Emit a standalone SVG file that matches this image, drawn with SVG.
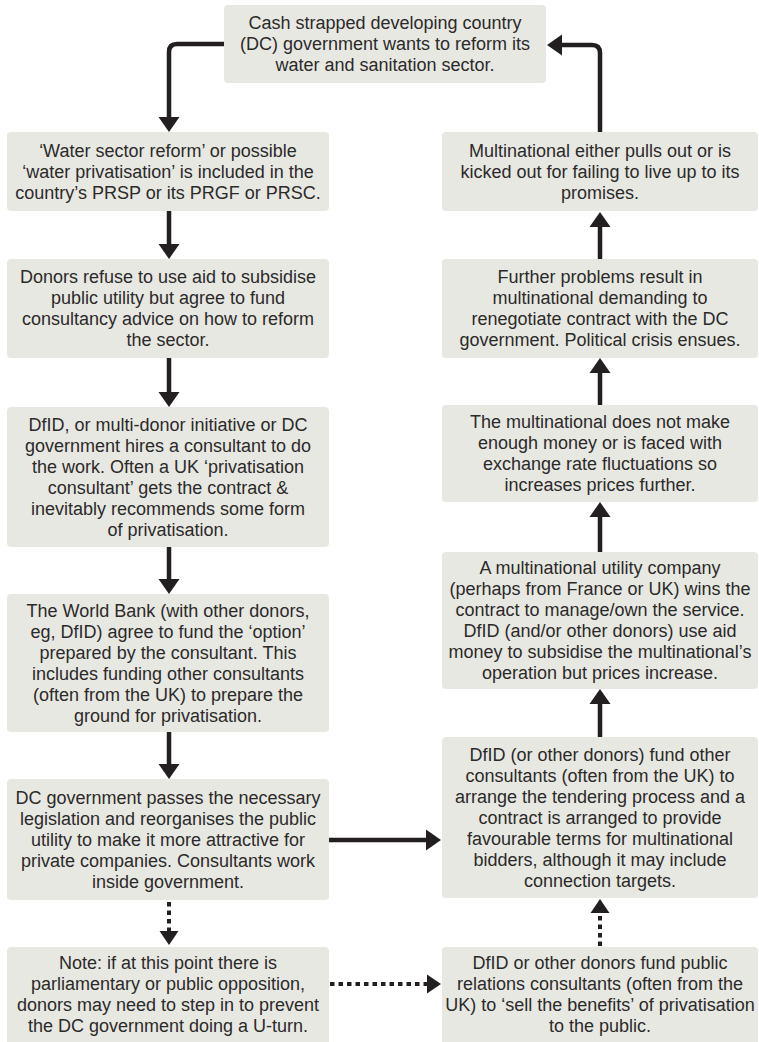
<svg xmlns="http://www.w3.org/2000/svg" width="759" height="1042" viewBox="0 0 759 1042">
<defs>
<style>
.box{fill:#e8e8e3;}
.t{font-family:"Liberation Sans",Arial,Helvetica,sans-serif;font-size:18px;fill:#2b2a29;text-anchor:middle;}
.c{fill:none;stroke:#231f20;stroke-width:4.5;}
.d{fill:none;stroke:#231f20;stroke-width:4;stroke-dasharray:4.5 4;}
</style>
<marker id="ah" markerUnits="userSpaceOnUse" markerWidth="16" markerHeight="22" refX="0" refY="10.5" orient="auto" overflow="visible">
<path d="M0,0 L15,10.5 L0,21 Z" fill="#231f20"/>
</marker>
<marker id="ahs" markerUnits="userSpaceOnUse" markerWidth="14" markerHeight="20" refX="0" refY="9.5" orient="auto" overflow="visible">
<path d="M0,0 L14,9.5 L0,19 Z" fill="#231f20"/>
</marker>
</defs>
<rect width="759" height="1042" fill="#ffffff"/>

<g id="connectors">
<path class="c" d="M224,44 H177 Q169,44 169,52 V117" marker-end="url(#ah)"/>
<path class="c" d="M169,211 V244" marker-end="url(#ah)"/>
<path class="c" d="M169,358 V392" marker-end="url(#ah)"/>
<path class="c" d="M169,547 V579" marker-end="url(#ah)"/>
<path class="c" d="M169,732 V764" marker-end="url(#ah)"/>
<path class="d" d="M169,902 V931" marker-end="url(#ahs)"/>
<path class="c" d="M329,840 H426" marker-end="url(#ah)"/>
<path class="d" d="M330,984 H427" marker-end="url(#ahs)"/>
<path class="d" d="M600,946 V913" marker-end="url(#ahs)"/>
<path class="c" d="M600,737 V704" marker-end="url(#ah)"/>
<path class="c" d="M600,552 V517" marker-end="url(#ah)"/>
<path class="c" d="M600,405 V373" marker-end="url(#ah)"/>
<path class="c" d="M600,259 V227" marker-end="url(#ah)"/>
<path class="c" d="M600,132 V53 Q600,45 592,45 H562" marker-end="url(#ah)"/>
</g>

<g id="n-top">
<rect class="box" x="224" y="5" width="322" height="78" rx="4"/>
<text class="t"><tspan x="385" y="29">Cash strapped developing country</tspan><tspan x="385" y="50">(DC) government wants to reform its</tspan><tspan x="385" y="71">water and sanitation sector.</tspan></text>
</g>

<g id="n-l1">
<rect class="box" x="7" y="132" width="322" height="79" rx="4"/>
<text class="t"><tspan x="168" y="156.5">‘Water sector reform’ or possible</tspan><tspan x="168" y="177.5">‘water privatisation’ is included in the</tspan><tspan x="168" y="198.5">country’s PRSP or its PRGF or PRSC.</tspan></text>
</g>

<g id="n-l2">
<rect class="box" x="7" y="259" width="322" height="99" rx="4"/>
<text class="t"><tspan x="168" y="283">Donors refuse to use aid to subsidise</tspan><tspan x="168" y="304">public utility but agree to fund</tspan><tspan x="168" y="325">consultancy advice on how to reform</tspan><tspan x="168" y="346">the sector.</tspan></text>
</g>

<g id="n-l3">
<rect class="box" x="7" y="407" width="322" height="140" rx="4"/>
<text class="t"><tspan x="168" y="430.5">DfID, or multi-donor initiative or DC</tspan><tspan x="168" y="451.5">government hires a consultant to do</tspan><tspan x="168" y="472.5">the work. Often a UK ‘privatisation</tspan><tspan x="168" y="493.5">consultant’ gets the contract &amp;</tspan><tspan x="168" y="514.5">inevitably recommends some form</tspan><tspan x="168" y="535.5">of privatisation.</tspan></text>
</g>

<g id="n-l4">
<rect class="box" x="7" y="594" width="322" height="138" rx="4"/>
<text class="t"><tspan x="168" y="616.5">The World Bank (with other donors,</tspan><tspan x="168" y="637.5">eg, DfID) agree to fund the ‘option’</tspan><tspan x="168" y="658.5">prepared by the consultant. This</tspan><tspan x="168" y="679.5">includes funding other consultants</tspan><tspan x="168" y="700.5">(often from the UK) to prepare the</tspan><tspan x="168" y="721.5">ground for privatisation.</tspan></text>
</g>

<g id="n-l5">
<rect class="box" x="7" y="779" width="322" height="121" rx="4"/>
<text class="t"><tspan x="168" y="803.5">DC government passes the necessary</tspan><tspan x="168" y="824.5">legislation and reorganises the public</tspan><tspan x="168" y="845.5">utility to make it more attractive for</tspan><tspan x="168" y="866.5">private companies. Consultants work</tspan><tspan x="168" y="887.5">inside government.</tspan></text>
</g>

<g id="n-l6">
<rect class="box" x="7" y="947" width="322" height="100" rx="4"/>
<text class="t"><tspan x="168" y="969">Note: if at this point there is</tspan><tspan x="168" y="990">parliamentary or public opposition,</tspan><tspan x="168" y="1011">donors may need to step in to prevent</tspan><tspan x="168" y="1032">the DC government doing a U-turn.</tspan></text>
</g>

<g id="n-r1">
<rect class="box" x="442" y="132" width="316" height="79" rx="4"/>
<text class="t"><tspan x="600" y="156.5">Multinational either pulls out or is</tspan><tspan x="600" y="177.5">kicked out for failing to live up to its</tspan><tspan x="600" y="198.5">promises.</tspan></text>
</g>

<g id="n-r2">
<rect class="box" x="442" y="259" width="316" height="99" rx="4"/>
<text class="t"><tspan x="600" y="283">Further problems result in</tspan><tspan x="600" y="304">multinational demanding to</tspan><tspan x="600" y="325">renegotiate contract with the DC</tspan><tspan x="600" y="346">government. Political crisis ensues.</tspan></text>
</g>

<g id="n-r3">
<rect class="box" x="442" y="405" width="316" height="97" rx="4"/>
<text class="t"><tspan x="600" y="428">The multinational does not make</tspan><tspan x="600" y="449">enough money or is faced with</tspan><tspan x="600" y="470">exchange rate fluctuations so</tspan><tspan x="600" y="491">increases prices further.</tspan></text>
</g>

<g id="n-r4">
<rect class="box" x="442" y="552" width="316" height="137" rx="4"/>
<text class="t"><tspan x="600" y="574">A multinational utility company</tspan><tspan x="600" y="595">(perhaps from France or UK) wins the</tspan><tspan x="600" y="616">contract to manage/own the service.</tspan><tspan x="600" y="637">DfID (and/or other donors) use aid</tspan><tspan x="600" y="658">money to subsidise the multinational’s</tspan><tspan x="600" y="679">operation but prices increase.</tspan></text>
</g>

<g id="n-r5">
<rect class="box" x="442" y="737" width="316" height="161" rx="4"/>
<text class="t"><tspan x="600" y="760.5">DfID (or other donors) fund other</tspan><tspan x="600" y="781.5">consultants (often from the UK) to</tspan><tspan x="600" y="802.5">arrange the tendering process and a</tspan><tspan x="600" y="823.5">contract is arranged to provide</tspan><tspan x="600" y="844.5">favourable terms for multinational</tspan><tspan x="600" y="865.5">bidders, although it may include</tspan><tspan x="600" y="886.5">connection targets.</tspan></text>
</g>

<g id="n-r6">
<rect class="box" x="442" y="947" width="316" height="100" rx="4"/>
<text class="t"><tspan x="600" y="969">DfID or other donors fund public</tspan><tspan x="600" y="990">relations consultants (often from the</tspan><tspan x="600" y="1011">UK) to ‘sell the benefits’ of privatisation</tspan><tspan x="600" y="1032">to the public.</tspan></text>
</g>
</svg>
